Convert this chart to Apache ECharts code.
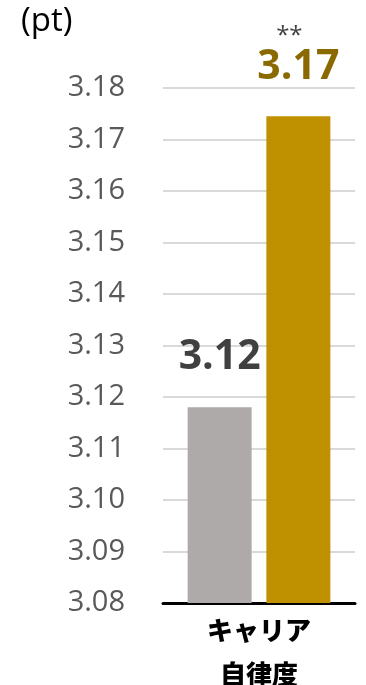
<!DOCTYPE html>
<html>
<head>
<meta charset="utf-8">
<script src="https://cdn.jsdelivr.net/npm/echarts@6/dist/echarts.min.js"></script>
<style>
  html, body { margin: 0; padding: 0; background: #fff; }
  #main { width: 366px; height: 685px; }
</style>
</head>
<body>
<div id="main"></div>
<script>
// data
const categories = ['キャリア\n自律度'];
const baseValues = [3.118];
const mainValues = [3.1745];
const mainMarks = ['**'];
const yTicks = { min: 3.08, max: 3.18, interval: 0.01 };

const chartDom = document.getElementById('main');
let myChart = echarts.init(chartDom);
let option;

const numFont = '"Open Sans", "Noto Sans", sans-serif';
const jpFont = '"Noto Sans CJK JP", sans-serif';

option = {
    animation: false,
    grid: {
        left: 163,
        right: 11,
        top: 88,
        bottom: 82,
        outerBoundsMode: 'none'
    },
    graphic: [
        {
            type: 'text',
            left: 21,
            top: 5,
            style: {
                text: '(pt)',
                fontSize: 33,
                fontFamily: numFont,
                fill: '#000'
            }
        }
    ],
    xAxis: {
        type: 'category',
        data: categories,
        axisTick: { show: false },
        axisLine: {
            lineStyle: { color: '#000', width: 3 }
        },
        axisLabel: {
            color: '#000',
            fontSize: 26,
            fontWeight: 900,
            fontFamily: jpFont,
            lineHeight: 44,
            margin: 5
        }
    },
    yAxis: {
        type: 'value',
        min: yTicks.min,
        max: yTicks.max,
        interval: yTicks.interval,
        axisLine: { show: false },
        axisTick: { show: false },
        splitLine: {
            lineStyle: { color: '#d9d9d9', width: 2 }
        },
        axisLabel: {
            color: '#595959',
            fontSize: 29,
            fontFamily: numFont,
            margin: 38,
            formatter: function (v) {
                return v.toFixed(2);
            }
        }
    },
    series: [
        {
            name: 'base',
            type: 'bar',
            barWidth: 64,
            barGap: '23%',
            itemStyle: { color: '#aeaaaa' },
            label: {
                show: true,
                position: 'top',
                distance: 29,
                color: '#404040',
                fontSize: 41,
                fontWeight: 'bold',
                fontFamily: numFont,
                formatter: function (p) {
                    return p.value.toFixed(2);
                }
            },
            data: baseValues
        },
        {
            name: 'main',
            type: 'bar',
            barWidth: 64,
            itemStyle: { color: '#bf9000' },
            label: {
                show: true,
                position: 'top',
                distance: 28,
                formatter: function (p) {
                    return '{s|' + mainMarks[p.dataIndex] + '}\n{v|' + p.value.toFixed(2) + '}';
                },
                rich: {
                    s: {
                        color: '#404040',
                        fontSize: 24,
                        fontFamily: numFont,
                        lineHeight: 20,
                        padding: [0, 18, 0, 0]
                    },
                    v: {
                        color: '#8a6a00',
                        fontSize: 41,
                        fontWeight: 'bold',
                        fontFamily: numFont,
                        lineHeight: 42
                    }
                }
            },
            data: mainValues
        }
    ]
};

option && myChart.setOption(option);
</script>
</body>
</html>
